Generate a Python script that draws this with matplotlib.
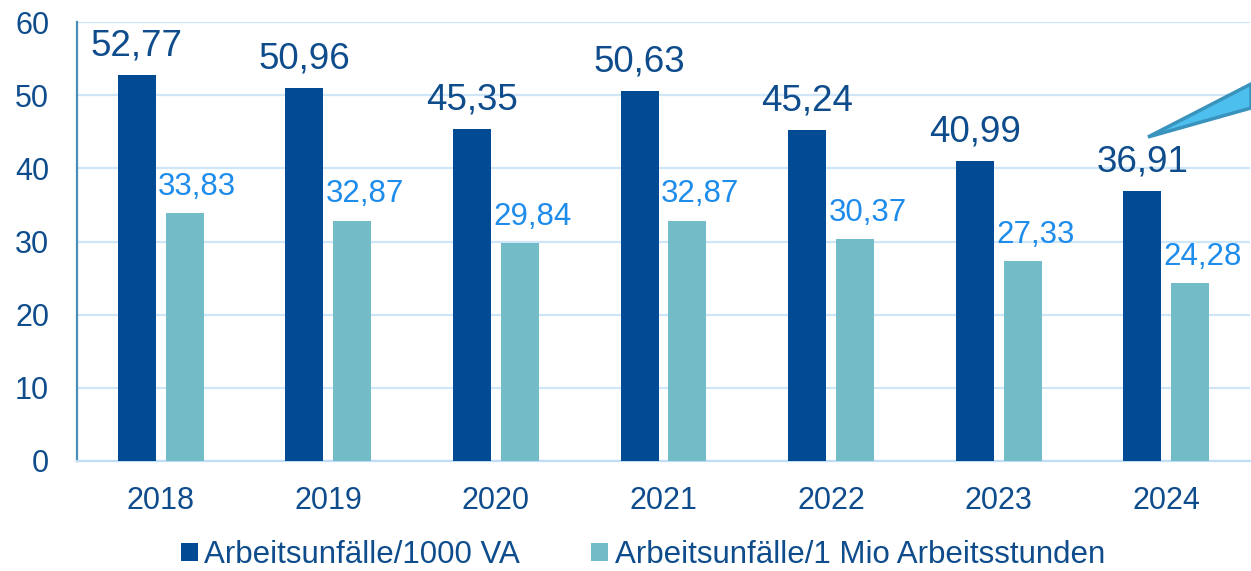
import numpy as np
import matplotlib
matplotlib.use("Agg")
import matplotlib.pyplot as plt
from matplotlib.patches import Patch, Polygon

plt.rcParams['font.family'] = ['Liberation Sans', 'DejaVu Sans']

years = ['2018', '2019', '2020', '2021', '2022', '2023', '2024']
per_1000_va = [52.77, 50.96, 45.35, 50.63, 45.24, 40.99, 36.91]
per_1mio_h = [33.83, 32.87, 29.84, 32.87, 30.37, 27.33, 24.28]
series_names = ['Arbeitsunfälle/1000 VA', 'Arbeitsunfälle/1 Mio Arbeitsstunden']

dark = '#004B93'
light = '#72BCC8'
text_dark = '#0E4C8C'
text_light = '#1E8CEB'
grid_col = '#CFE5F8'

W, H = 1251, 571
fig = plt.figure(figsize=(W / 100, H / 100), dpi=100)
ax = fig.add_axes([77 / W, (H - 461) / H, (1250 - 77) / W, (461 - 22) / H])

x = np.arange(len(years))
bw = 0.227
off = 0.143
b1 = ax.bar(x - off, per_1000_va, bw, color=dark, zorder=3)
b2 = ax.bar(x + off, per_1mio_h, bw, color=light, zorder=3)

def fmt(v):
    return ('%.2f' % v).replace('.', ',')

for rect, v in zip(b1, per_1000_va):
    ax.annotate(fmt(v), (rect.get_x() + rect.get_width() / 2, v),
                xytext=(0, 14), textcoords='offset points',
                ha='center', va='baseline', fontsize=26.5, color=text_dark)
for rect, v in zip(b2, per_1mio_h):
    ax.annotate(fmt(v), (rect.get_x() + rect.get_width() / 2, v),
                xytext=(9, 13), textcoords='offset points',
                ha='center', va='baseline', fontsize=22.5, color=text_light,
                annotation_clip=False)

ax.set_xlim(-0.5, len(years) - 0.5)
ax.set_ylim(0, 60)
ax.set_yticks(range(0, 61, 10))
ax.set_xticks(x)
ax.set_xticklabels(years)
ax.tick_params(axis='both', length=0, labelsize=22, labelcolor=text_dark)
ax.tick_params(axis='y', pad=20)
ax.tick_params(axis='x', pad=18)
ax.yaxis.grid(True, color=grid_col, linewidth=1.6, zorder=0)
ax.set_axisbelow(True)
for s in ['top', 'right']:
    ax.spines[s].set_visible(False)
ax.spines['left'].set_color('#4A8FB8')
ax.spines['left'].set_linewidth(1.6)
ax.spines['bottom'].set_color('#BFDDF5')
ax.spines['bottom'].set_linewidth(1.6)

# callout wedge at the top right
wedge = Polygon([(1148 / W, 1 - 137 / H), (1.0, 1 - 84 / H), (1.0, 1 - 108 / H)],
                closed=True, transform=fig.transFigure,
                facecolor='#4DBFEE', edgecolor='#3A93BD', linewidth=2.5, zorder=10)
fig.add_artist(wedge)

handles = [Patch(facecolor=dark), Patch(facecolor=light)]
fig.legend(handles, series_names, loc='center', bbox_to_anchor=(643 / W, 1 - 555 / H),
           ncol=2, frameon=False, fontsize=22.5, labelcolor=text_dark,
           handlelength=0.54, handleheight=0.54, handletextpad=0.22,
           columnspacing=2.27, borderpad=0)

fig.savefig('out.png', dpi=100)
